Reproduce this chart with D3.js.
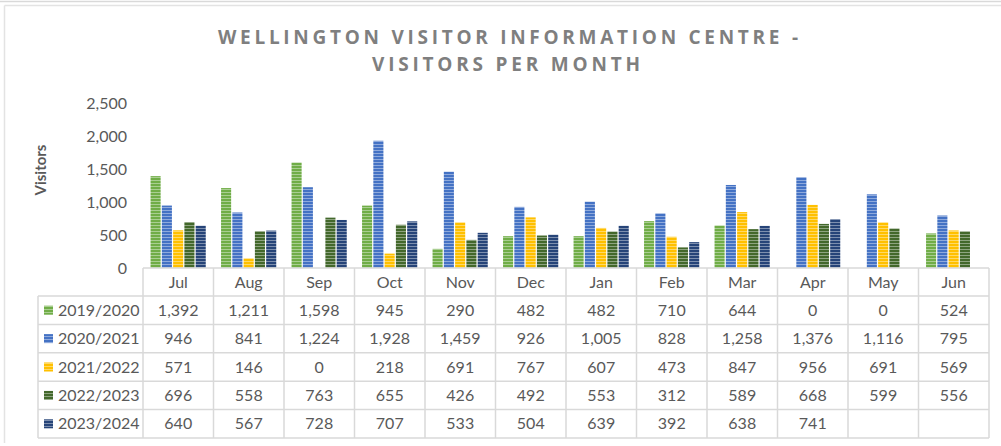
<!DOCTYPE html>
<html><head><meta charset="utf-8">
<script src="https://cdn.jsdelivr.net/npm/d3@7"></script>
<style>
html,body{margin:0;padding:0;background:#fff;}
svg{display:block;font-family:Lato,"Open Sans",sans-serif;}
</style></head>
<body>
<svg id="c" width="1001" height="446"></svg>
<script>
const categories = ["Jul","Aug","Sep","Oct","Nov","Dec","Jan","Feb","Mar","Apr","May","Jun"];
const seriesNames = ["2019/2020","2020/2021","2021/2022","2022/2023","2023/2024"];
const v2019 = [1392,1211,1598,945,290,482,482,710,644,0,0,524];
const v2020 = [946,841,1224,1928,1459,926,1005,828,1258,1376,1116,795];
const v2021 = [571,146,0,218,691,767,607,473,847,956,691,569];
const v2022 = [696,558,763,655,426,492,553,312,589,668,599,556];
const v2023 = [640,567,728,707,533,504,639,392,638,741,null,null];
const seriesColors = ["#70ad47","#4472c4","#ffc000","#43682b","#264478"];
const yTicks = [0,500,1000,1500,2000,2500];

(function(){
const seriesValues = [v2019,v2020,v2021,v2022,v2023];
const svg = d3.select("#c");
const fmt = d3.format(",");
const textCol = "#595959", gridCol = "#d9d9d9";

// frame
svg.append("line").attr("x1",0).attr("x2",1001).attr("y1",1.5).attr("y2",1.5).attr("stroke","#d9d9d9").attr("stroke-width",1.5);
svg.append("line").attr("x1",4.5).attr("x2",1001).attr("y1",5.5).attr("y2",5.5).attr("stroke","#e3e3e3").attr("stroke-width",1.5);
svg.append("line").attr("x1",4.5).attr("x2",4.5).attr("y1",5.5).attr("y2",443).attr("stroke","#e3e3e3").attr("stroke-width",1.5);

// patterns
const defs = svg.append("defs");
seriesColors.forEach((c,i)=>{
  const p = defs.append("pattern").attr("id","pat"+i).attr("patternUnits","userSpaceOnUse")
    .attr("width",4).attr("height",3);
  p.append("rect").attr("width",4).attr("height",3).attr("fill",c);
  p.append("rect").attr("width",4).attr("height",1).attr("y",0).attr("fill",d3.interpolateRgb(c,"#ffffff")(0.4));
});

// title
const title = svg.append("g").attr("fill","#7f7f7f").attr("font-weight","bold").attr("font-size",19)
  .attr("text-anchor","middle").attr("font-family","'Open Sans',Lato,sans-serif");
title.append("text").attr("x",508).attr("y",44).attr("textLength",580).attr("lengthAdjust","spacing")
  .text("WELLINGTON VISITOR INFORMATION CENTRE -");
title.append("text").attr("x",506).attr("y",71).attr("textLength",268).attr("lengthAdjust","spacing")
  .text("VISITORS PER MONTH");

// scales
const plotLeft = 143, plotRight = 989, base = 268, plotTop = 103;
const x = d3.scaleBand().domain(categories).range([plotLeft,plotRight]).padding(0);
const bw = x.bandwidth();
const x1 = d3.scaleBand().domain(seriesNames).range([bw*0.1, bw*0.9]).padding(0);
const y = d3.scaleLinear().domain([0,2500]).range([base, plotTop]);

// y axis
const yAxis = svg.append("g").attr("transform",`translate(${127},0)`)
  .call(d3.axisLeft(y).tickValues(yTicks).tickFormat(fmt).tickSize(0).tickPadding(0));
yAxis.select(".domain").remove();
yAxis.selectAll("text").attr("fill",textCol).attr("font-size",16).attr("font-family","Lato,sans-serif");

svg.append("text").attr("transform","translate(46,170) rotate(-90)").attr("text-anchor","middle")
  .attr("font-weight","bold").attr("font-size",15).attr("fill",textCol).text("Visitors");

// bars
seriesNames.forEach((s,si)=>{
  const data = categories.map((c,ci)=>({c, v: seriesValues[si][ci]})).filter(d=>d.v!=null && d.v>0);
  svg.append("g").selectAll("rect").data(data).join("rect")
    .attr("x",d=>x(d.c)+x1(s)+0.5)
    .attr("width",x1.bandwidth()-1.2)
    .attr("y",d=>y(d.v))
    .attr("height",d=>base-y(d.v))
    .attr("fill",`url(#pat${si})`);
});

// data table
const tableLeft = 38, hdrBottom = 296, rowH = 28.4;
const tableBottom = hdrBottom + rowH*seriesNames.length;
const g = svg.append("g").attr("stroke",gridCol).attr("stroke-width",1.5);
g.append("line").attr("x1",plotLeft).attr("x2",plotRight).attr("y1",base).attr("y2",base);
for(let r=0;r<=seriesNames.length;r++){
  const yy = hdrBottom + r*rowH;
  g.append("line").attr("x1",tableLeft).attr("x2",plotRight).attr("y1",yy).attr("y2",yy);
}
g.append("line").attr("x1",tableLeft).attr("x2",tableLeft).attr("y1",hdrBottom).attr("y2",tableBottom);
categories.forEach(c=>{
  g.append("line").attr("x1",x(c)).attr("x2",x(c)).attr("y1",base).attr("y2",tableBottom);
});
g.append("line").attr("x1",plotRight).attr("x2",plotRight).attr("y1",base).attr("y2",tableBottom);

const tt = svg.append("g").attr("fill",textCol).attr("font-size",16).attr("font-family","Lato,sans-serif");
tt.selectAll("text.cat").data(categories).join("text").attr("class","cat")
  .attr("x",c=>x(c)+bw/2).attr("y",(base+hdrBottom)/2).attr("dy","0.35em").attr("text-anchor","middle").text(c=>c);
seriesNames.forEach((s,si)=>{
  const cy = hdrBottom + si*rowH + rowH/2;
  svg.append("rect").attr("x",44).attr("y",cy-4.5).attr("width",9).attr("height",9).attr("fill",`url(#pat${si})`);
  tt.append("text").attr("x",58).attr("y",cy).attr("dy","0.35em").text(s);
  tt.append("g").selectAll("text").data(categories.map((c,ci)=>({c,v:seriesValues[si][ci]})).filter(d=>d.v!=null))
    .join("text").attr("x",d=>x(d.c)+bw/2).attr("y",cy).attr("dy","0.35em").attr("text-anchor","middle")
    .text(d=>fmt(d.v));
});
})();
</script>
</body></html>
